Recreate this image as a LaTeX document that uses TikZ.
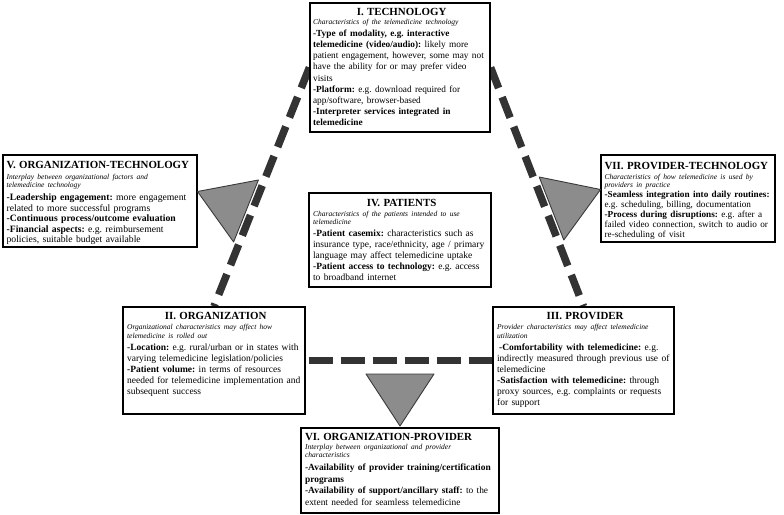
\documentclass[tikz,border=0pt]{standalone}
\usepackage{fontspec}
\setmainfont{Liberation Serif}
\usetikzlibrary{backgrounds}
\definecolor{dashc}{HTML}{333333}
\definecolor{trif}{HTML}{8C8C8C}
\definecolor{tril}{HTML}{3A3A3A}
\lineskiplimit=-100pt
\frenchspacing
\newcommand\ttlc[1]{{\centering\fontsize{10.9}{12}\selectfont\bfseries\rule{0pt}{8.4pt}#1\par}}
\newcommand\ttll[1]{{\raggedright\fontsize{10.9}{12}\selectfont\bfseries\rule{0pt}{8.4pt}#1\par}}
\newcommand\sbt[3]{{\fontsize{7.5}{#2}\selectfont\itshape\vspace*{\dimexpr#1pt-#2pt\relax}#3\par}}
\newcommand\bdy[4]{{\fontsize{#1}{#3}\selectfont\vspace*{\dimexpr#2pt-#3pt\relax}#4\par}}
\begin{document}
\begin{tikzpicture}[x=1pt,y={(0pt,-1pt)},
  box/.style={draw=black, line width=1.2pt, fill=white, inner sep=0pt},
  txt/.style={inner sep=0pt, anchor=north west, align=left, execute at begin node={\frenchspacing}},
  link/.style={draw=dashc, line width=7.5pt, dash pattern=on 22pt off 9.8pt},
  hlink/.style={draw=dashc, line width=7.5pt, dash pattern=on 24pt off 8pt, dash phase=29pt},
  tri/.style={fill=trif, draw=tril, line width=0.9pt, line join=round}]
\useasboundingbox (0,0) rectangle (784,514);

% boxes
\node[box, minimum width=180pt, minimum height=129pt] (I) at (400,67.5) {};
\node[box, minimum width=194pt, minimum height=92pt] (V) at (100,201) {};
\node[box, minimum width=174pt, minimum height=87pt] (VII) at (688,198.5) {};
\node[box, minimum width=182pt, minimum height=94pt] (IV) at (400,240) {};
\node[box, minimum width=182pt, minimum height=107pt] (II) at (214,360.5) {};
\node[box, minimum width=181pt, minimum height=107pt] (III) at (583.5,360.5) {};
\node[box, minimum width=198pt, minimum height=85pt] (VI) at (400,470.5) {};

% connectors
\begin{scope}[on background layer]
\draw[link] (I.west) -- (II.north);
\draw[link] (I.east) -- (III.north);
\draw[hlink] (II.east) -- (III.west);
\end{scope}

% triangles
\draw[tri] (197.5,191.5) -- (258.4,180) -- (233.6,242) -- cycle;
\draw[tri] (600.5,189.5) -- (539.2,177) -- (563.8,240) -- cycle;
\draw[tri] (366,374) -- (434,374) -- (400,426) -- cycle;

% texts
\node[txt, text width=177pt, xshift=3.5pt, yshift=-4.1pt] (Itx) at (I.north west) {%
\ttlc{I. TECHNOLOGY}%
\sbt{9}{8}{Characteristics of the telemedicine technology}%
\bdy{9.3}{12.5}{11.1}{\textbf{-Type of modality, e.g. interactive}\\
\textbf{telemedicine (video/audio):} likely more\\
patient engagement, however, some may not\\
have the ability for or may prefer video\\
visits\\
\textbf{-Platform:} e.g. download required for\\
app/software, browser-based\\
\textbf{-Interpreter services integrated in}\\
\textbf{telemedicine}}};

\node[txt, text width=189pt, xshift=4pt, yshift=-5.6pt] (Vtx) at (V.north west) {%
\ttll{V. ORGANIZATION-TECHNOLOGY}%
\sbt{11}{8}{Interplay between organizational factors and\\telemedicine technology}%
\bdy{9.7}{13}{10.5}{\textbf{-Leadership engagement:} more engagement\\
related to more successful programs\\
\textbf{-Continuous process/outcome evaluation}\\
\textbf{-Financial aspects:} e.g. reimbursement\\
policies, suitable budget available}};

\node[txt, text width=170pt, xshift=4pt, yshift=-6.6pt] (VIItx) at (VII.north west) {%
\ttll{VII. PROVIDER-TECHNOLOGY}%
\sbt{10}{8}{Characteristics of how telemedicine is used by\\providers in practice}%
\bdy{9.2}{10}{10}{\textbf{-Seamless integration into daily routines:}\\
e.g. scheduling, billing, documentation\\
\textbf{-Process during disruptions:} e.g. after a\\
failed video connection, switch to audio or\\
re-scheduling of visit}};

\node[txt, text width=177pt, xshift=4.5pt, yshift=-5.6pt] (IVtx) at (IV.north west) {%
\ttlc{IV. PATIENTS}%
\sbt{10}{8}{Characteristics of the patients intended to use\\telemedicine}%
\bdy{9.5}{12}{11}{\textbf{-Patient casemix:} characteristics such as\\
insurance type, race/ethnicity, age / primary\\
language may affect telemedicine uptake\\
\textbf{-Patient access to technology:} e.g. access\\
to broadband internet}};

\node[txt, text width=177pt, xshift=4.5pt, yshift=-4.6pt] (IItx) at (II.north west) {%
\ttlc{II. ORGANIZATION}%
\sbt{10}{9}{Organizational characteristics may affect how\\telemedicine is rolled out}%
\bdy{9.5}{11.5}{11}{\textbf{-Location:} e.g. rural/urban or in states with\\
varying telemedicine legislation/policies\\
\textbf{-Patient volume:} in terms of resources\\
needed for telemedicine implementation and\\
subsequent success}};

\node[txt, text width=176pt, xshift=4.5pt, yshift=-4.6pt] (IIItx) at (III.north west) {%
\ttlc{III. PROVIDER}%
\sbt{10}{9}{Provider characteristics may affect telemedicine\\utilization}%
\bdy{9.5}{11.5}{11}{\hspace*{2pt}\textbf{-Comfortability with telemedicine:} e.g.\\
indirectly measured through previous use of\\
telemedicine\\
\textbf{-Satisfaction with telemedicine:} through\\
proxy sources, e.g. complaints or requests\\
for support}};

\node[txt, text width=193pt, xshift=4.5pt, yshift=-4.6pt] (VItx) at (VI.north west) {%
\ttll{VI. ORGANIZATION-PROVIDER}%
\sbt{9}{8}{Interplay between organizational and provider\\characteristics}%
\bdy{9.4}{13}{11.5}{\textbf{-Availability of provider training/certification}\\
\textbf{programs}\\
\textbf{-Availability of support/ancillary staff:} to the\\
extent needed for seamless telemedicine}};
\end{tikzpicture}
\end{document}
